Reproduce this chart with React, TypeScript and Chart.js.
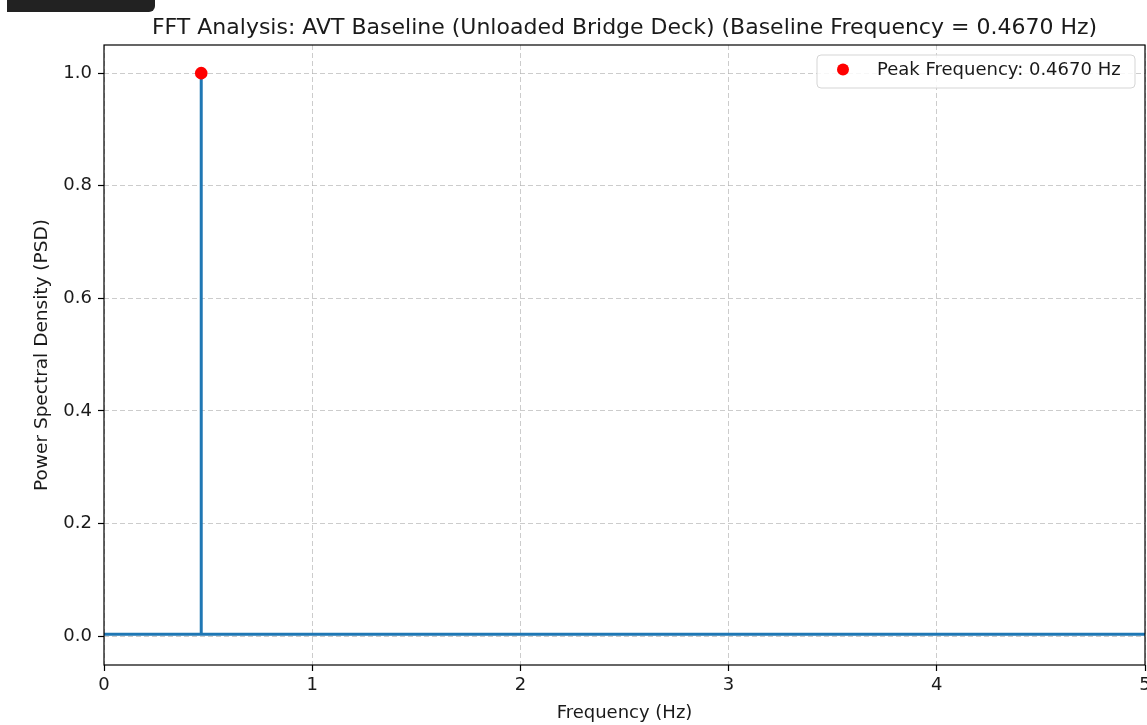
import React, { useEffect, useRef } from "react";
import { Chart, registerables } from "chart.js";

Chart.register(...registerables);

const TITLE = "FFT Analysis: AVT Baseline (Unloaded Bridge Deck) (Baseline Frequency = 0.4670 Hz)";
const X_LABEL = "Frequency (Hz)";
const Y_LABEL = "Power Spectral Density (PSD)";
const LEGEND_LABEL = "Peak Frequency: 0.4670 Hz";

const freqs = [0, 0.2, 0.467, 0.467, 0.467, 1.0, 2.0, 3.0, 4.0, 5.0];
const psd = [0.003, 0.003, 0.003, 1.0, 0.003, 0.003, 0.003, 0.003, 0.003, 0.003];
const peakFreq = [0.467];
const peakPsd = [1.0];

const xTicks = [0, 1, 2, 3, 4, 5];
const yTicks = [0, 0.2, 0.4, 0.6, 0.8, 1.0];

const FONT = "'DejaVu Sans', sans-serif";
const TEXT = "#1a1a1a";

const overlay = {
  id: "overlay",
  afterDraw(chart: any) {
    const { ctx, chartArea: a } = chart;
    ctx.save();
    ctx.strokeStyle = "#000";
    ctx.lineWidth = 1.2;
    ctx.strokeRect(a.left, a.top, a.right - a.left, a.bottom - a.top);
    ctx.fillStyle = TEXT;
    ctx.font = `22px ${FONT}`;
    ctx.textAlign = "center";
    ctx.textBaseline = "middle";
    const cx = (a.left + a.right) / 2;
    ctx.fillText(TITLE, cx, 28);
    ctx.font = `18px ${FONT}`;
    ctx.fillText(X_LABEL, cx, 713);
    ctx.save();
    ctx.translate(42, (a.top + a.bottom) / 2);
    ctx.rotate(-Math.PI / 2);
    ctx.font = `18.5px ${FONT}`;
    ctx.fillText(Y_LABEL, 0, 0);
    ctx.restore();
    const lx = 817, ly = 55, lw = 318, lh = 33, r = 4;
    ctx.beginPath();
    ctx.moveTo(lx + r, ly);
    ctx.arcTo(lx + lw, ly, lx + lw, ly + lh, r);
    ctx.arcTo(lx + lw, ly + lh, lx, ly + lh, r);
    ctx.arcTo(lx, ly + lh, lx, ly, r);
    ctx.arcTo(lx, ly, lx + lw, ly, r);
    ctx.closePath();
    ctx.fillStyle = "rgba(255,255,255,0.85)";
    ctx.fill();
    ctx.strokeStyle = "#d5d5d5";
    ctx.lineWidth = 1;
    ctx.stroke();
    ctx.beginPath();
    ctx.arc(843, 69.5, 6, 0, Math.PI * 2);
    ctx.fillStyle = "#ff0000";
    ctx.fill();
    ctx.fillStyle = TEXT;
    ctx.textAlign = "left";
    ctx.font = `18px ${FONT}`;
    ctx.fillText(LEGEND_LABEL, 877, 70);
    ctx.restore();
  },
};

const gridOpts = {
  color: "rgba(176,176,176,0.65)",
  lineWidth: 1,
  drawTicks: true,
  tickLength: 6,
  tickColor: "#000",
  tickWidth: 1.2,
  tickBorderDash: [],
};

export default function App() {
  const ref = useRef<HTMLCanvasElement | null>(null);
  useEffect(() => {
    document.body.style.margin = "0";
    const chart = new Chart(ref.current as HTMLCanvasElement, {
      type: "line",
      data: {
        datasets: [
          {
            label: "PSD",
            data: freqs.map((f, i) => ({ x: f, y: psd[i] })),
            borderColor: "#1f77b4",
            borderWidth: 3,
            pointRadius: 0,
            tension: 0,
            order: 2,
          },
          {
            label: LEGEND_LABEL,
            data: peakFreq.map((f, i) => ({ x: f, y: peakPsd[i] })),
            showLine: false,
            pointRadius: 6.3,
            pointBackgroundColor: "#ff0000",
            pointBorderColor: "#ff0000",
            pointBorderWidth: 0,
            order: 1,
          },
        ],
      },
      options: {
        animation: false,
        responsive: false,
        devicePixelRatio: 1,
        layout: { padding: { top: 45, left: 0, right: 55, bottom: 0 } },
        plugins: { legend: { display: false }, title: { display: false }, tooltip: { enabled: false } },
        scales: {
          x: {
            type: "linear",
            min: 0,
            max: 5,
            afterFit: (s: any) => { s.height = 60; },
            afterBuildTicks: (s: any) => { s.ticks = xTicks.map((v) => ({ value: v })); },
            border: { display: false, dash: [5, 3] },
            grid: gridOpts,
            ticks: { font: { family: FONT, size: 18 }, color: TEXT, padding: 4, maxRotation: 0, autoSkip: false, callback: (v: any) => String(v) },
          },
          y: {
            type: "linear",
            min: -0.0515,
            max: 1.05,
            afterFit: (s: any) => { s.width = 104; },
            afterBuildTicks: (s: any) => { s.ticks = yTicks.map((v) => ({ value: v })); },
            border: { display: false, dash: [5, 3] },
            grid: gridOpts,
            ticks: { font: { family: FONT, size: 18 }, color: TEXT, padding: 6, autoSkip: false, callback: (v: any) => Number(v).toFixed(1) },
          },
        },
      },
      plugins: [overlay],
    } as any);
    return () => chart.destroy();
  }, []);
  return (
    <div style={{ position: "absolute", left: 0, top: 0, width: 1147, height: 725, overflow: "hidden", background: "#fff" }}>
      <div style={{ position: "absolute", left: 7, top: 0, width: 148, height: 12, background: "#222", borderBottomRightRadius: 6 }} />
      <canvas ref={ref} width={1200} height={725} style={{ display: "block" }} />
    </div>
  );
}
